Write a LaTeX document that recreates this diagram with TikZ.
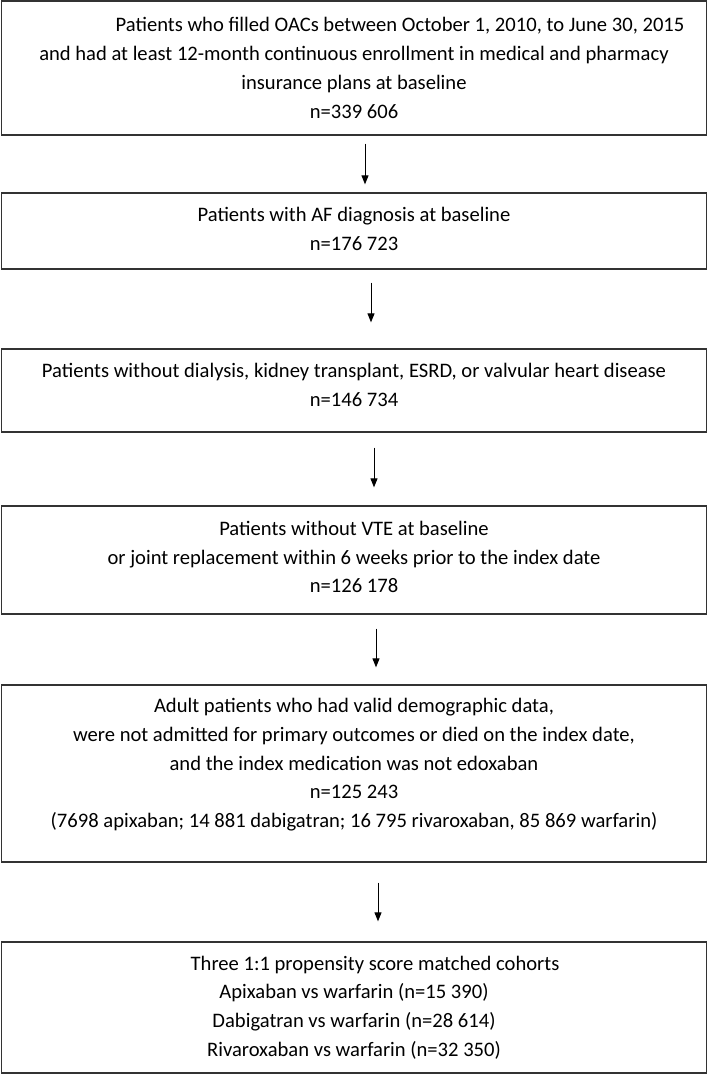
\documentclass[tikz,border=0pt]{standalone}
\usepackage{fontspec}
\setmainfont{Carlito}
\usetikzlibrary{arrows.meta}

\begin{document}
\begin{tikzpicture}[x=1pt,y=-1pt,
  box/.style={draw=black!80,line width=1.3pt,minimum width=705pt,inner sep=0pt,
    align=center,font=\fontsize{20.6}{28.8}\selectfont},
  flow/.style={-{Triangle[length=9pt,width=7pt]},line width=0.9pt}]
\useasboundingbox (0,0) rectangle (709,1075);
\node [box,minimum height=134pt] (fill) at (354,68)
  {\hspace*{92pt}Patients who filled OACs between October 1, 2010, to June 30, 2015\\
   and had at least 12-month continuous enrollment in medical and pharmacy\\
   insurance plans at baseline\\
   n=339 606};
\node [box,minimum height=76pt,text depth=4pt] (af) at (354,231)
  {Patients with AF diagnosis at baseline\\ n=176 723};
\node [box,minimum height=83pt,text depth=12pt] (kidney) at (354,390.5)
  {Patients without dialysis, kidney transplant, ESRD, or valvular heart disease\\ n=146 734};
\node [box,minimum height=108pt,text depth=6pt] (vte) at (354,560)
  {Patients without VTE at baseline\\
   or joint replacement within 6 weeks prior to the index date\\
   n=126 178};
\node [box,minimum height=177pt,text depth=21pt] (adult) at (354,773.5)
  {Adult patients who had valid demographic data,\\
   were not admitted for primary outcomes or died on the index date,\\
   and the index medication was not edoxaban\\
   n=125 243\\
   (7698 apixaban; 14 881 dabigatran; 16 795 rivaroxaban, 85 869 warfarin)};
\node [box,minimum height=131pt] (match) at (354,1007.5)
  {\hspace*{42pt}Three 1:1 propensity score matched cohorts\\
   Apixaban vs warfarin (n=15 390)\\
   Dabigatran vs warfarin (n=28 614)\\
   Rivaroxaban vs warfarin (n=32 350)};
% arrows between the steps
\draw [flow] ([xshift=11pt,yshift=-8pt]fill.south) -- ([xshift=11pt,yshift=8pt]af.north);
\draw [flow] ([xshift=17pt,yshift=-13pt]af.south) -- ([xshift=17pt,yshift=26pt]kidney.north);
\draw [flow] ([xshift=20pt,yshift=-15pt]kidney.south) -- ([xshift=20pt,yshift=18pt]vte.north);
\draw [flow] ([xshift=22pt,yshift=-14pt]vte.south) -- ([xshift=22pt,yshift=17pt]adult.north);
\draw [flow] ([xshift=24pt,yshift=-20pt]adult.south) -- ([xshift=24pt,yshift=20pt]match.north);
\end{tikzpicture}
\end{document}
